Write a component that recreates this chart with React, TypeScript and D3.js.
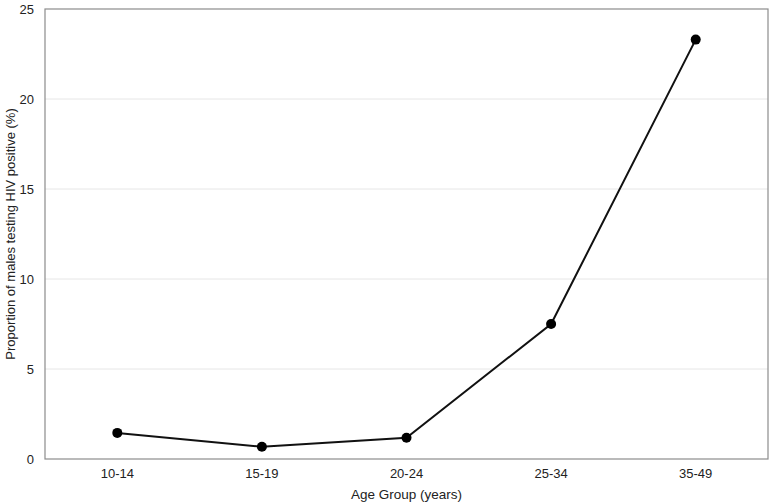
import React, { useEffect, useRef } from "react";
import * as d3 from "d3";

const ageGroups = ["10-14", "15-19", "20-24", "25-34", "35-49"];
const positivity = [1.45, 0.68, 1.18, 7.5, 23.3];
const yTicks = [0, 5, 10, 15, 20, 25];

const App = () => {
  const chartRef = useRef<SVGSVGElement>(null);

  useEffect(() => {
    const width = 773;
    const height = 504;
    const margin = { top: 9, right: 5, bottom: 45, left: 45 };
    const innerW = width - margin.left - margin.right;
    const innerH = height - margin.top - margin.bottom;

    const svg = d3.select(chartRef.current);
    svg.selectAll("*").remove();
    svg.attr("width", width).attr("height", height);

    const g = svg
      .append("g")
      .attr("transform", `translate(${margin.left},${margin.top})`);

    const x = d3.scaleBand().domain(ageGroups).range([0, innerW]);
    const y = d3.scaleLinear().domain([0, 25]).range([innerH, 0]);

    // gridlines
    g.selectAll(".grid")
      .data(yTicks.slice(1, -1))
      .enter()
      .append("line")
      .attr("x1", 0)
      .attr("x2", innerW)
      .attr("y1", (d) => y(d))
      .attr("y2", (d) => y(d))
      .attr("stroke", "#e6e6e6")
      .attr("stroke-width", 1);

    // frame
    g.append("rect")
      .attr("x", 0)
      .attr("y", 0)
      .attr("width", innerW)
      .attr("height", innerH)
      .attr("fill", "none")
      .attr("stroke", "#8c8c8c")
      .attr("stroke-width", 1.2);

    const font = "'Liberation Sans', Arial, sans-serif";

    const yAxis = g
      .append("g")
      .call(d3.axisLeft(y).tickValues(yTicks).tickSize(0).tickPadding(11));
    yAxis.select(".domain").remove();
    yAxis
      .selectAll("text")
      .attr("font-family", font)
      .attr("font-size", 13)
      .attr("fill", "#222");

    const xAxis = g
      .append("g")
      .attr("transform", `translate(0,${innerH})`)
      .call(d3.axisBottom(x).tickSize(0).tickPadding(10));
    xAxis.select(".domain").remove();
    xAxis
      .selectAll("text")
      .attr("font-family", font)
      .attr("font-size", 13)
      .attr("fill", "#222");

    const pts = ageGroups.map((a, i) => ({ a, v: positivity[i] }));
    const line = d3
      .line<{ a: string; v: number }>()
      .x((d) => (x(d.a) as number) + x.bandwidth() / 2)
      .y((d) => y(d.v));

    g.append("path")
      .datum(pts)
      .attr("d", line)
      .attr("fill", "none")
      .attr("stroke", "#111")
      .attr("stroke-width", 2);

    g.selectAll(".pt")
      .data(pts)
      .enter()
      .append("circle")
      .attr("cx", (d) => (x(d.a) as number) + x.bandwidth() / 2)
      .attr("cy", (d) => y(d.v))
      .attr("r", 5)
      .attr("fill", "#000");

    svg
      .append("text")
      .attr("x", margin.left + innerW / 2)
      .attr("y", height - 5)
      .attr("text-anchor", "middle")
      .attr("font-family", font)
      .attr("font-size", 13.5)
      .attr("fill", "#222")
      .text("Age Group (years)");

    svg
      .append("text")
      .attr("transform", `translate(15,${margin.top + innerH / 2}) rotate(-90)`)
      .attr("text-anchor", "middle")
      .attr("font-family", font)
      .attr("font-size", 13)
      .attr("fill", "#222")
      .text("Proportion of males testing HIV positive (%)");
  }, []);

  return (
    <svg
      ref={chartRef}
      style={{ position: "absolute", left: 0, top: 0 }}
    ></svg>
  );
};

export default App;
